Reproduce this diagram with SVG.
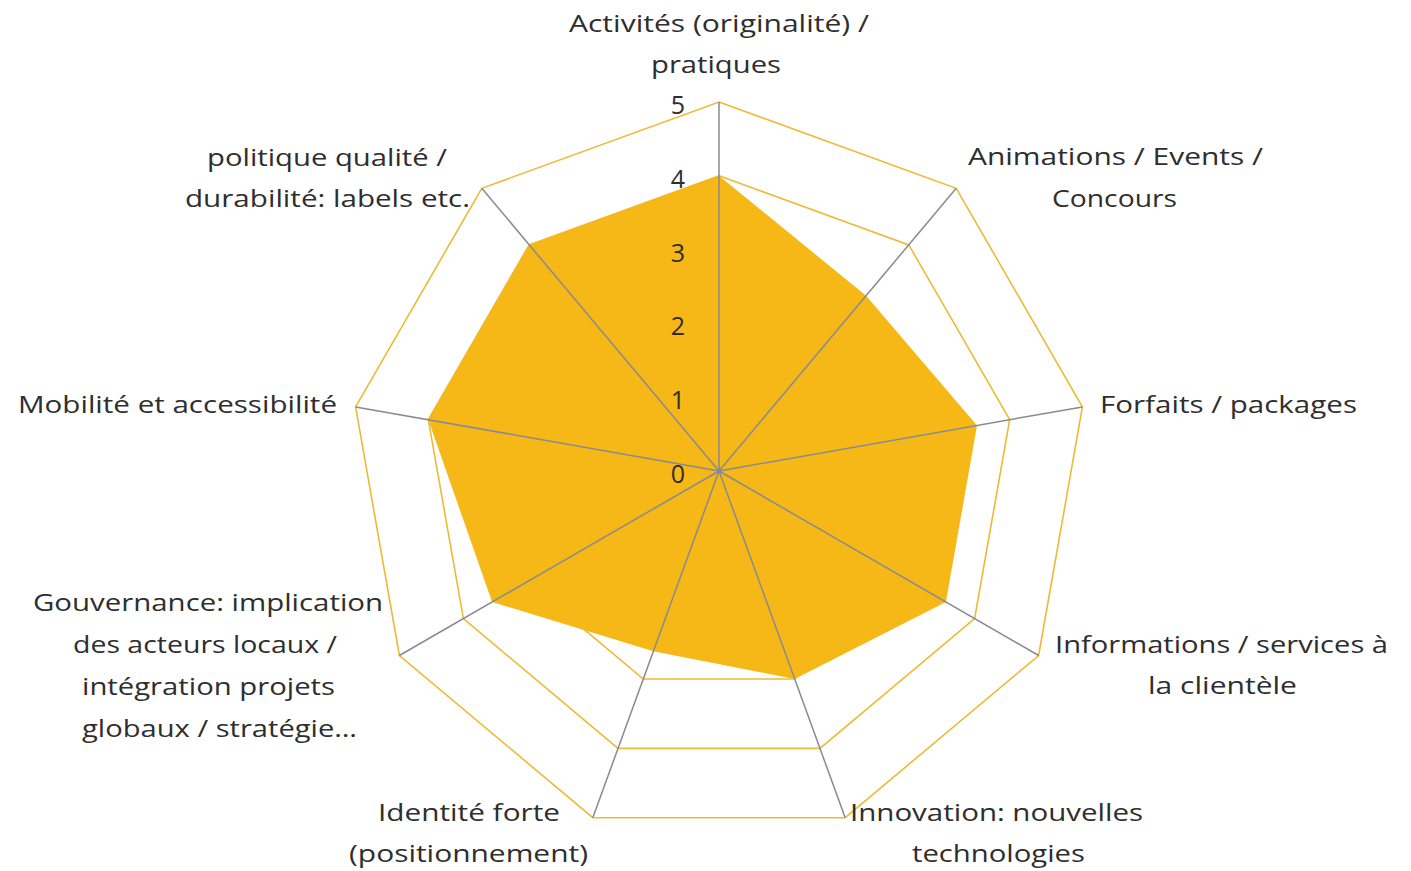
<svg xmlns="http://www.w3.org/2000/svg" width="1411" height="871" viewBox="0 0 1411 871">
<style>
.grid{fill:none;stroke:#ECBA35;stroke-width:1.6;stroke-linejoin:miter}
.axis{stroke:#878A95;stroke-width:1.5}
.area{fill:#F6B817;stroke:none}
.lbl{font-family:"Open Sans","Liberation Sans",sans-serif;font-size:24px;fill:#2e2e2e;text-anchor:middle}
.tick{font-family:"Open Sans","Liberation Sans",sans-serif;font-size:25px;fill:#2e2e2e;text-anchor:end}
</style>
<rect x="0" y="0" width="1411" height="871" fill="#ffffff"/>
<g id="gridlines">
<polygon class="grid" points="719,397.2 766.4,414.5 791.7,458.2 782.9,507.9 744.2,540.4 693.8,540.4 655.1,507.9 646.3,458.2 671.6,414.5"/>
<polygon class="grid" points="719,323.4 813.9,357.9 864.4,445.4 846.8,544.8 769.5,609.7 668.5,609.7 591.2,544.8 573.6,445.4 624.1,357.9"/>
<polygon class="grid" points="719,249.6 861.3,301.4 937,432.6 910.7,581.7 794.7,679 643.3,679 527.3,581.7 501,432.6 576.7,301.4"/>
<polygon class="grid" points="719,175.8 908.8,244.9 1009.7,419.7 974.6,618.6 820,748.4 618,748.4 463.4,618.6 428.3,419.7 529.2,244.9"/>
<polygon class="grid" points="719,102 956.2,188.3 1082.4,406.9 1038.6,655.5 845.2,817.7 592.8,817.7 399.4,655.5 355.6,406.9 481.8,188.3"/>
</g>
<g id="series">
<polygon class="area" points="719,175.8 866.1,295.7 977,425.5 945.9,602 794.7,679 653.4,651.3 492.1,602 428.3,419.7 529.2,244.9"/>
</g>
<g id="axes">
<line class="axis" x1="719" y1="471" x2="719" y2="102"/>
<line class="axis" x1="719" y1="471" x2="956.2" y2="188.3"/>
<line class="axis" x1="719" y1="471" x2="1082.4" y2="406.9"/>
<line class="axis" x1="719" y1="471" x2="1038.6" y2="655.5"/>
<line class="axis" x1="719" y1="471" x2="845.2" y2="817.7"/>
<line class="axis" x1="719" y1="471" x2="592.8" y2="817.7"/>
<line class="axis" x1="719" y1="471" x2="399.4" y2="655.5"/>
<line class="axis" x1="719" y1="471" x2="355.6" y2="406.9"/>
<line class="axis" x1="719" y1="471" x2="481.8" y2="188.3"/>
</g>
<g id="ticks">
<text class="tick" x="685" y="113.5">5</text>
<text class="tick" x="685" y="187.5">4</text>
<text class="tick" x="685" y="261.5">3</text>
<text class="tick" x="685" y="335">2</text>
<text class="tick" x="685" y="409">1</text>
<text class="tick" x="685" y="483">0</text>
</g>
<g id="label-activites">
<text class="lbl" x="719" y="32" textLength="300" lengthAdjust="spacingAndGlyphs">Activités (originalité) /</text>
<text class="lbl" x="716" y="73" textLength="130" lengthAdjust="spacingAndGlyphs">pratiques</text>
</g>
<g id="label-animations">
<text class="lbl" x="1115.5" y="165" textLength="295" lengthAdjust="spacingAndGlyphs">Animations / Events /</text>
<text class="lbl" x="1114.5" y="207" textLength="125" lengthAdjust="spacingAndGlyphs">Concours</text>
</g>
<g id="label-forfaits">
<text class="lbl" x="1228.5" y="413" textLength="257" lengthAdjust="spacingAndGlyphs">Forfaits / packages</text>
</g>
<g id="label-informations">
<text class="lbl" x="1221.5" y="653" textLength="333" lengthAdjust="spacingAndGlyphs">Informations / services à</text>
<text class="lbl" x="1222.5" y="694" textLength="149" lengthAdjust="spacingAndGlyphs">la clientèle</text>
</g>
<g id="label-innovation">
<text class="lbl" x="996.5" y="821" textLength="293" lengthAdjust="spacingAndGlyphs">Innovation: nouvelles</text>
<text class="lbl" x="998.5" y="862" textLength="173" lengthAdjust="spacingAndGlyphs">technologies</text>
</g>
<g id="label-identite">
<text class="lbl" x="469" y="821" textLength="182" lengthAdjust="spacingAndGlyphs">Identité forte</text>
<text class="lbl" x="468.5" y="862" textLength="239" lengthAdjust="spacingAndGlyphs">(positionnement)</text>
</g>
<g id="label-gouvernance">
<text class="lbl" x="208" y="611" textLength="350" lengthAdjust="spacingAndGlyphs">Gouvernance: implication</text>
<text class="lbl" x="205" y="653" textLength="264" lengthAdjust="spacingAndGlyphs">des acteurs locaux /</text>
<text class="lbl" x="208.5" y="695" textLength="253" lengthAdjust="spacingAndGlyphs">intégration projets</text>
<text class="lbl" x="219.5" y="737" textLength="275" lengthAdjust="spacingAndGlyphs">globaux / stratégie…</text>
</g>
<g id="label-mobilite">
<text class="lbl" x="177.5" y="413" textLength="319" lengthAdjust="spacingAndGlyphs">Mobilité et accessibilité</text>
</g>
<g id="label-politique">
<text class="lbl" x="327" y="166" textLength="240" lengthAdjust="spacingAndGlyphs">politique qualité /</text>
<text class="lbl" x="327.5" y="207" textLength="285" lengthAdjust="spacingAndGlyphs">durabilité: labels etc.</text>
</g>
</svg>
